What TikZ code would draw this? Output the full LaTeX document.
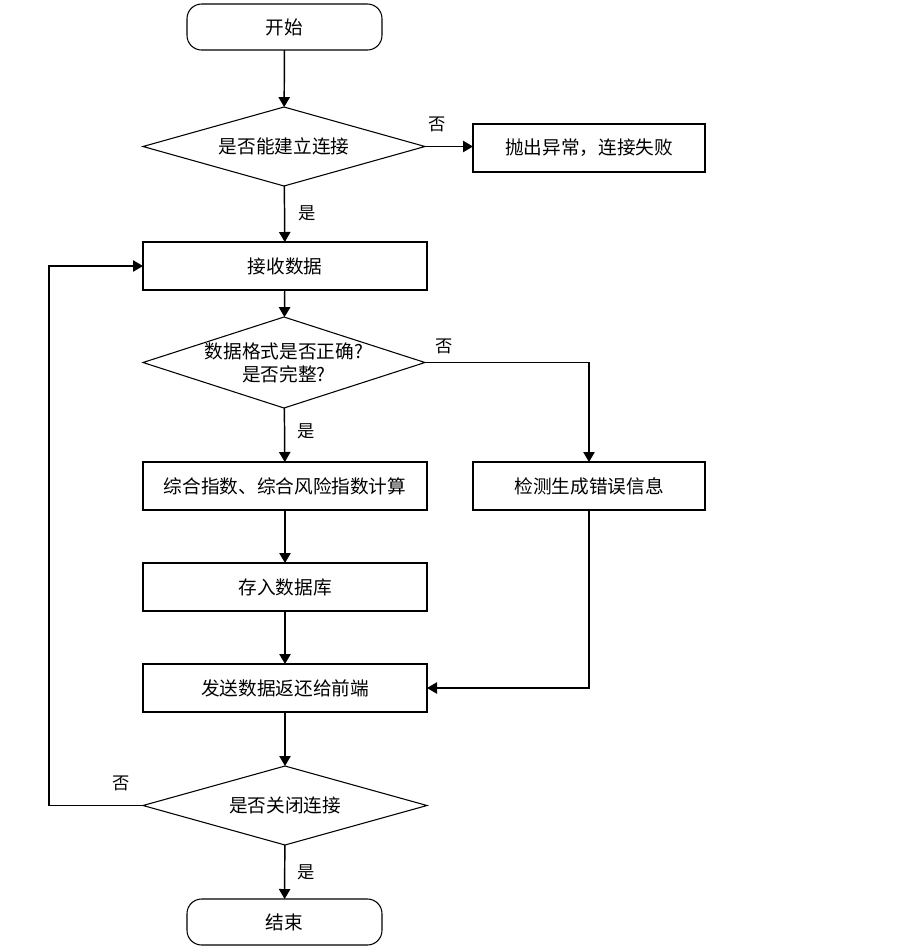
\documentclass[tikz,border=0pt]{standalone}
\usepackage{fontspec}
\setmainfont{Noto Sans CJK SC}
\usetikzlibrary{shapes.geometric,arrows.meta}
\begin{document}
\begin{tikzpicture}[x=0.75pt,y=-0.75pt,
  txt/.style={font=\fontsize{14}{17}\selectfont},
  box/.style={txt, draw, line width=0.8pt, minimum width=213pt, minimum height=36pt, inner sep=0pt, outer sep=0pt},
  sbox/.style={box, minimum width=174pt},
  term/.style={box, rounded corners=11pt, minimum width=146.25pt, minimum height=34.5pt},
  dia/.style={diamond, draw, line width=0.8pt, minimum width=211.5pt, minimum height=59.25pt, inner sep=0pt, outer sep=0pt},
  dtext/.style={txt, align=center},
  arr/.style={-{Triangle[length=7.5pt,width=8.5pt]}, line width=1.1pt},
  lab/.style={font=\fontsize{13}{13}\selectfont}]
\useasboundingbox (0,0) rectangle (900,951);

\node[term] (start) at (284.5,27) {开始};
\node[dia] (d1) at (284,146.5) {};
\node[dtext] (d1t) at (d1) {是否能建立连接};
\node[sbox] (err) at (589,148) {抛出异常，连接失败};
\node[box] (recv) at (285,266) {接收数据};
\node[dia, minimum height=68.25pt] (d2) at (284,362.5) {};
\node[dtext] (d2t) at (284,363) {数据格式是否正确?\\是否完整?};
\node[box] (calc) at (285,486) {综合指数、综合风险指数计算};
\node[sbox] (chk) at (589,486) {检测生成错误信息};
\node[box] (store) at (285,587) {存入数据库};
\node[box] (send) at (285,688) {发送数据返还给前端};
\node[dia, minimum width=213pt] (d3) at (285,805.5) {};
\node[dtext] (d3t) at (d3) {是否关闭连接};
\node[term] (end) at (284.5,922) {结束};
\coordinate (loop) at (49,805.5);

\node[lab] (l1) at (437,124) {否};
\node[lab] (l2) at (307,213) {是};
\node[lab] (l3) at (444,346) {否};
\node[lab] (l4) at (306,431) {是};
\node[lab] (l5) at (121,783) {否};
\node[lab] (l6) at (306,872) {是};

\draw[arr] (start) -- (d1);
\draw[arr] (d1.east) -- (d1.east -| err.west);
\draw[arr] (d1) -- (recv);
\draw[arr] (recv) -- (d2);
\draw[arr] (d2.east) -| (chk.north);
\draw[arr] (d2) -- (calc);
\draw[arr] (calc) -- (store);
\draw[arr] (store) -- (send);
\draw[arr] (chk.south) |- (send.east);
\draw[arr] (send) -- (d3);
\draw[arr] (d3) -- (end);
\draw[arr] (d3.west) -- (loop) |- (recv.west);
\end{tikzpicture}
\end{document}
